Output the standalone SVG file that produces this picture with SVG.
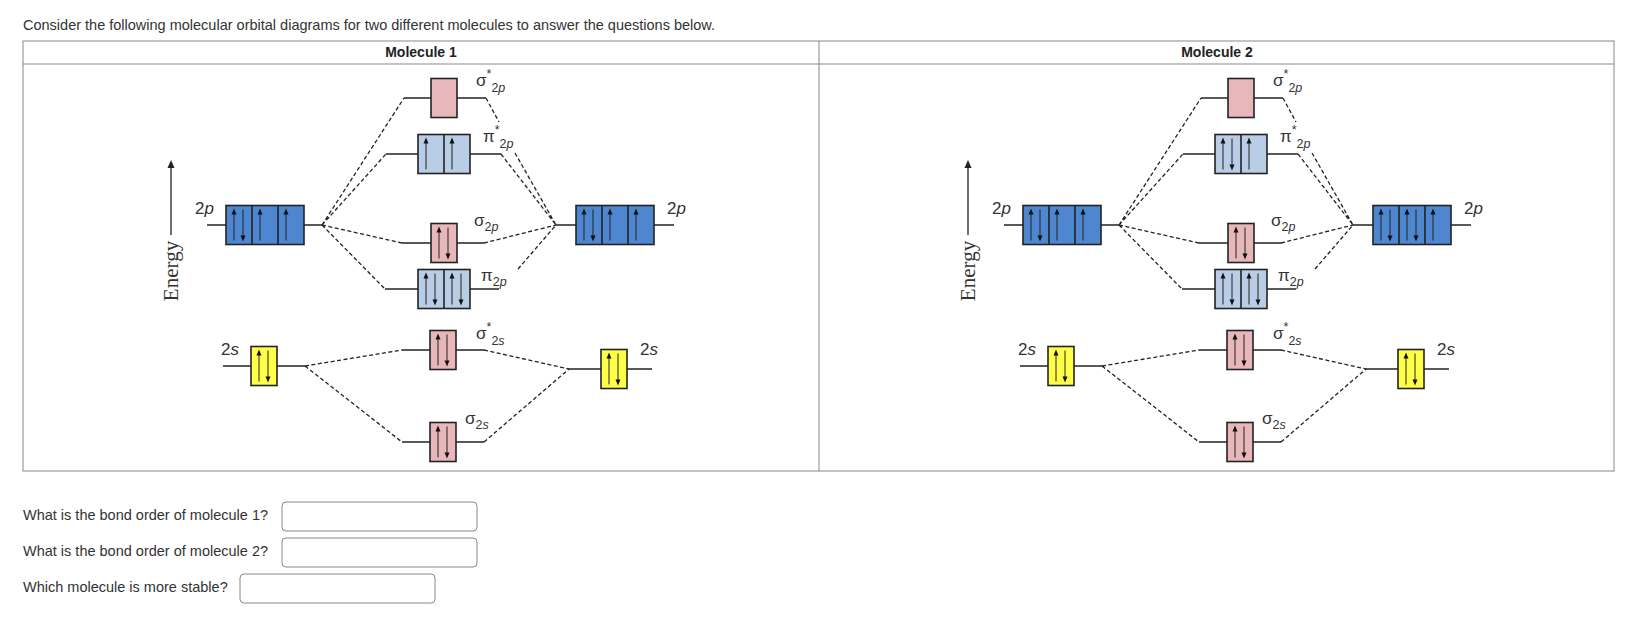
<svg xmlns="http://www.w3.org/2000/svg" xmlns:xlink="http://www.w3.org/1999/xlink" width="1644" height="627" viewBox="0 0 1644 627">
<style>
text{font-family:"Liberation Sans",Arial,sans-serif;fill:#333}
.q{font-size:14.5px;fill:#333}
.hd{font-size:14px;font-weight:bold;fill:#222}
.lbl{font-size:17px}
.sub{font-size:12.5px}
.it{font-style:italic}
.en{font-family:"Liberation Serif","Times New Roman",serif;font-size:21px;fill:#333}
.lv{stroke:#222;stroke-width:1.6;fill:none}
.dsh{stroke:#222;stroke-width:1.3;stroke-dasharray:4 2.5;fill:none}
.pk{fill:#e8b7b9;stroke:#222;stroke-width:1.6}
.lb{fill:#b9cde6;stroke:#222;stroke-width:1.6}
.db{fill:#4f86d0;stroke:#222;stroke-width:1.6}
.yl{fill:#ffff4a;stroke:#222;stroke-width:1.6}
.inp{fill:#fff;stroke:#888;stroke-width:1}
.fr{fill:none;stroke:#888;stroke-width:1}
</style>
<defs>
<g id="up"><path d="M0,35V8" stroke="#222" stroke-width="1"/><polygon points="0,3 -2.5,9 2.5,9" fill="#111"/></g>
<g id="dn"><path d="M0,4V31" stroke="#222" stroke-width="1"/><polygon points="0,36 -2.5,30 2.5,30" fill="#111"/></g>
<g id="ax"><path d="M0,235V166" stroke="#222" stroke-width="1.3"/><polygon points="0,160 -3.5,168 3.5,168" fill="#222"/></g>
</defs>
<rect width="1644" height="627" fill="#fff"/>
<text class="q" x="23" y="30">Consider the following molecular orbital diagrams for two different molecules to answer the questions below.</text>
<g id="frame">
<rect class="fr" x="23" y="41" width="1591" height="430"/>
<line class="fr" x1="23" y1="64" x2="1614" y2="64"/>
<line class="fr" x1="819" y1="41" x2="819" y2="471"/>
<text class="hd" x="421" y="57" text-anchor="middle">Molecule 1</text>
<text class="hd" x="1217" y="57" text-anchor="middle">Molecule 2</text>
</g>

<g id="mol1">
<g id="m1-connectors">
<path class="dsh" d="M322,225L404,98M486,98L499,122M515,153L556,225M322,225L386,154M501,154L556,225M322,225L402,243M484,243L556,225M322,225L385,289M518,269L556,225M305,366L402,350M484,350L569,369M305,366L402,442M484,442L569,369"/>
</g>
<g id="m1-energy"><use href="#ax" x="171" y="0"/><text class="en" transform="translate(178,271) rotate(-90)" text-anchor="middle">Energy</text></g>
<g id="m1-2pL"><path class="lv" d="M207,225H322"/><rect class="db" x="226" y="205.5" width="78" height="39"/><path class="lv" d="M252,205.5V244.5M278,205.5V244.5"/>
<use href="#up" x="234" y="205.5"/><use href="#dn" x="243" y="205.5"/><use href="#up" x="260" y="205.5"/><use href="#up" x="286" y="205.5"/>
<text class="lbl" x="195" y="214">2<tspan class="it">p</tspan></text></g>
<g id="m1-2pR"><path class="lv" d="M556,225H674"/><rect class="db" x="576" y="205.5" width="78" height="39"/><path class="lv" d="M602,205.5V244.5M628,205.5V244.5"/>
<use href="#up" x="584" y="205.5"/><use href="#dn" x="593" y="205.5"/><use href="#up" x="610" y="205.5"/><use href="#up" x="636" y="205.5"/>
<text class="lbl" x="667" y="214">2<tspan class="it">p</tspan></text></g>
<g id="m1-s2pstar"><path class="lv" d="M404,98H486"/><rect class="pk" x="431" y="78.5" width="26" height="39"/>
<text class="lbl" x="476" y="86">σ<tspan class="sub" dy="-8">*</tspan><tspan class="sub" dy="14">2<tspan class="it">p</tspan></tspan></text></g>
<g id="m1-p2pstar"><path class="lv" d="M386,154H501"/><rect class="lb" x="418" y="134.5" width="52" height="39"/><path class="lv" d="M444,134.5V173.5"/>
<use href="#up" x="426" y="134.5"/><use href="#up" x="452" y="134.5"/>
<text class="lbl" x="483" y="142">π<tspan class="sub" dy="-8">*</tspan><tspan class="sub" dy="14">2<tspan class="it">p</tspan></tspan></text></g>
<g id="m1-s2p"><path class="lv" d="M402,243H484"/><rect class="pk" x="431" y="223.5" width="26" height="39"/>
<use href="#up" x="439" y="223.5"/><use href="#dn" x="448" y="223.5"/>
<text class="lbl" x="474" y="226">σ<tspan class="sub" dy="5">2<tspan class="it">p</tspan></tspan></text></g>
<g id="m1-p2p"><path class="lv" d="M385,289H499"/><rect class="lb" x="418" y="269.5" width="52" height="39"/><path class="lv" d="M444,269.5V308.5"/>
<use href="#up" x="426" y="269.5"/><use href="#dn" x="435" y="269.5"/><use href="#up" x="452" y="269.5"/><use href="#dn" x="461" y="269.5"/>
<text class="lbl" x="481" y="281">π<tspan class="sub" dy="5">2<tspan class="it">p</tspan></tspan></text></g>
<g id="m1-2sL"><path class="lv" d="M223,366H305"/><rect class="yl" x="251" y="346.5" width="26" height="39"/>
<use href="#up" x="259" y="346.5"/><use href="#dn" x="268" y="346.5"/>
<text class="lbl" x="221" y="355">2<tspan class="it">s</tspan></text></g>
<g id="m1-2sR"><path class="lv" d="M569,369H652"/><rect class="yl" x="601" y="349.5" width="26" height="39"/>
<use href="#up" x="609" y="349.5"/><use href="#dn" x="618" y="349.5"/>
<text class="lbl" x="640" y="355">2<tspan class="it">s</tspan></text></g>
<g id="m1-s2sstar"><path class="lv" d="M402,350H484"/><rect class="pk" x="430" y="330.5" width="26" height="39"/>
<use href="#up" x="438" y="330.5"/><use href="#dn" x="447" y="330.5"/>
<text class="lbl" x="476" y="339">σ<tspan class="sub" dy="-8">*</tspan><tspan class="sub" dy="14">2<tspan class="it">s</tspan></tspan></text></g>
<g id="m1-s2s"><path class="lv" d="M402,442H484"/><rect class="pk" x="430" y="422.5" width="26" height="39"/>
<use href="#up" x="438" y="422.5"/><use href="#dn" x="447" y="422.5"/>
<text class="lbl" x="465" y="424">σ<tspan class="sub" dy="5">2<tspan class="it">s</tspan></tspan></text></g>
</g>

<g id="mol2" transform="translate(797,0)">
<g id="m2-connectors">
<path class="dsh" d="M322,225L404,98M486,98L499,122M515,153L556,225M322,225L386,154M501,154L556,225M322,225L402,243M484,243L556,225M322,225L385,289M518,269L556,225M305,366L402,350M484,350L569,369M305,366L402,442M484,442L569,369"/>
</g>
<g id="m2-energy"><use href="#ax" x="171" y="0"/><text class="en" transform="translate(178,271) rotate(-90)" text-anchor="middle">Energy</text></g>
<g id="m2-2pL"><path class="lv" d="M207,225H322"/><rect class="db" x="226" y="205.5" width="78" height="39"/><path class="lv" d="M252,205.5V244.5M278,205.5V244.5"/>
<use href="#up" x="234" y="205.5"/><use href="#dn" x="243" y="205.5"/><use href="#up" x="260" y="205.5"/><use href="#up" x="286" y="205.5"/>
<text class="lbl" x="195" y="214">2<tspan class="it">p</tspan></text></g>
<g id="m2-2pR"><path class="lv" d="M556,225H674"/><rect class="db" x="576" y="205.5" width="78" height="39"/><path class="lv" d="M602,205.5V244.5M628,205.5V244.5"/>
<use href="#up" x="584" y="205.5"/><use href="#dn" x="593" y="205.5"/><use href="#up" x="610" y="205.5"/><use href="#dn" x="619" y="205.5"/><use href="#up" x="636" y="205.5"/>
<text class="lbl" x="667" y="214">2<tspan class="it">p</tspan></text></g>
<g id="m2-s2pstar"><path class="lv" d="M404,98H486"/><rect class="pk" x="431" y="78.5" width="26" height="39"/>
<text class="lbl" x="476" y="86">σ<tspan class="sub" dy="-8">*</tspan><tspan class="sub" dy="14">2<tspan class="it">p</tspan></tspan></text></g>
<g id="m2-p2pstar"><path class="lv" d="M386,154H501"/><rect class="lb" x="418" y="134.5" width="52" height="39"/><path class="lv" d="M444,134.5V173.5"/>
<use href="#up" x="426" y="134.5"/><use href="#dn" x="435" y="134.5"/><use href="#up" x="452" y="134.5"/>
<text class="lbl" x="483" y="142">π<tspan class="sub" dy="-8">*</tspan><tspan class="sub" dy="14">2<tspan class="it">p</tspan></tspan></text></g>
<g id="m2-s2p"><path class="lv" d="M402,243H484"/><rect class="pk" x="431" y="223.5" width="26" height="39"/>
<use href="#up" x="439" y="223.5"/><use href="#dn" x="448" y="223.5"/>
<text class="lbl" x="474" y="226">σ<tspan class="sub" dy="5">2<tspan class="it">p</tspan></tspan></text></g>
<g id="m2-p2p"><path class="lv" d="M385,289H499"/><rect class="lb" x="418" y="269.5" width="52" height="39"/><path class="lv" d="M444,269.5V308.5"/>
<use href="#up" x="426" y="269.5"/><use href="#dn" x="435" y="269.5"/><use href="#up" x="452" y="269.5"/><use href="#dn" x="461" y="269.5"/>
<text class="lbl" x="481" y="281">π<tspan class="sub" dy="5">2<tspan class="it">p</tspan></tspan></text></g>
<g id="m2-2sL"><path class="lv" d="M223,366H305"/><rect class="yl" x="251" y="346.5" width="26" height="39"/>
<use href="#up" x="259" y="346.5"/><use href="#dn" x="268" y="346.5"/>
<text class="lbl" x="221" y="355">2<tspan class="it">s</tspan></text></g>
<g id="m2-2sR"><path class="lv" d="M569,369H652"/><rect class="yl" x="601" y="349.5" width="26" height="39"/>
<use href="#up" x="609" y="349.5"/><use href="#dn" x="618" y="349.5"/>
<text class="lbl" x="640" y="355">2<tspan class="it">s</tspan></text></g>
<g id="m2-s2sstar"><path class="lv" d="M402,350H484"/><rect class="pk" x="430" y="330.5" width="26" height="39"/>
<use href="#up" x="438" y="330.5"/><use href="#dn" x="447" y="330.5"/>
<text class="lbl" x="476" y="339">σ<tspan class="sub" dy="-8">*</tspan><tspan class="sub" dy="14">2<tspan class="it">s</tspan></tspan></text></g>
<g id="m2-s2s"><path class="lv" d="M402,442H484"/><rect class="pk" x="430" y="422.5" width="26" height="39"/>
<use href="#up" x="438" y="422.5"/><use href="#dn" x="447" y="422.5"/>
<text class="lbl" x="465" y="424">σ<tspan class="sub" dy="5">2<tspan class="it">s</tspan></tspan></text></g>
</g>

<g id="questions">
<text class="q" x="23" y="520">What is the bond order of molecule 1?</text>
<rect class="inp" x="282" y="502" width="195" height="29" rx="4"/>
<text class="q" x="23" y="556">What is the bond order of molecule 2?</text>
<rect class="inp" x="282" y="538" width="195" height="29" rx="4"/>
<text class="q" x="23" y="592">Which molecule is more stable?</text>
<rect class="inp" x="240" y="574" width="195" height="29" rx="4"/>
</g>
</svg>
